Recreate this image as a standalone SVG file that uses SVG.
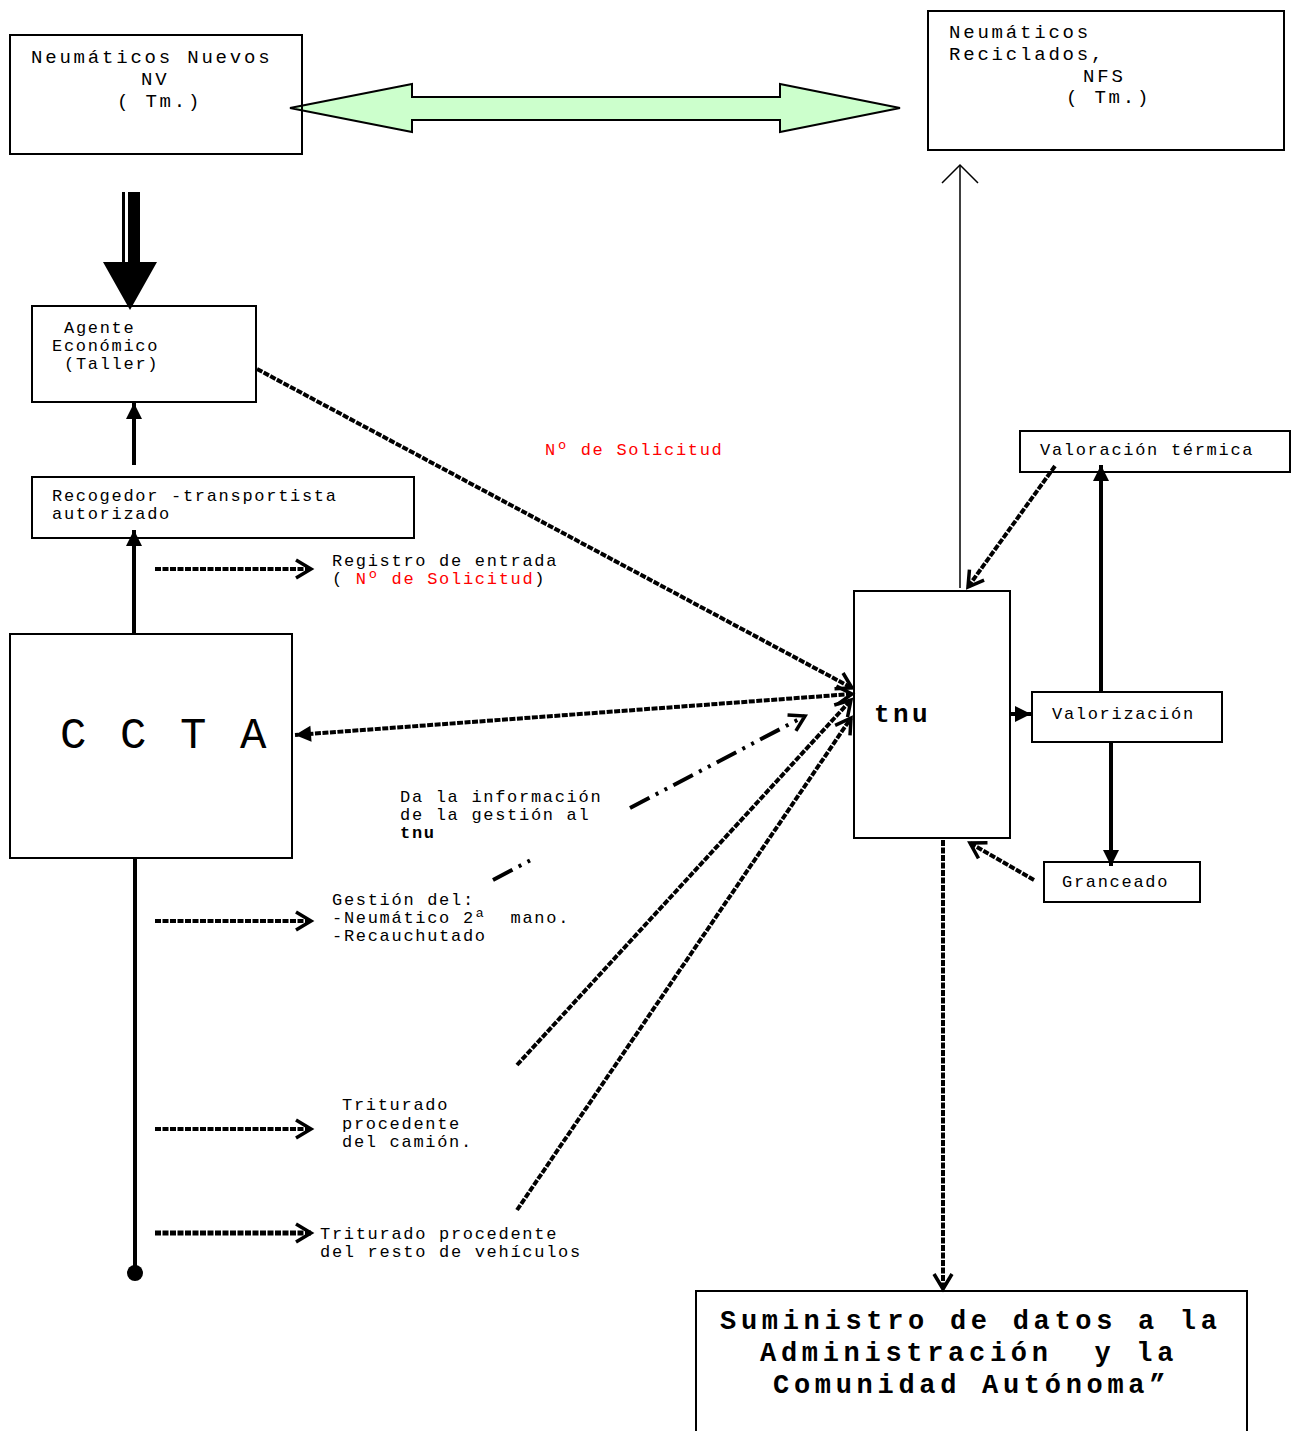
<svg xmlns="http://www.w3.org/2000/svg" width="1292" height="1431" viewBox="0 0 1292 1431" xml:space="preserve">
<style>
text { font-family: 'Liberation Mono', 'Courier New', monospace; fill: #000; white-space: pre; }
.s { font-size: 17px; letter-spacing: 1.7px; }
.l { font-size: 19px; letter-spacing: 2.8px; }
.red { fill: #ff0000; }
.b { font-weight: bold; }
.big { font-size: 27px; letter-spacing: 4.7px; font-weight: bold; }
.box { fill: none; stroke: #000; stroke-width: 2; }
.dash { fill: none; stroke: #000; stroke-width: 4; stroke-dasharray: 6 1.5; }
.solid { fill: none; stroke: #000; stroke-width: 4; }
.thin { fill: none; stroke: #000; stroke-width: 1.5; }
</style>
<defs>
<marker id="chev" viewBox="-20 -12 24 24" markerWidth="24" markerHeight="24" refX="0" refY="0" orient="auto" markerUnits="userSpaceOnUse">
<path d="M-15,-9 L0,0 L-15,9" fill="none" stroke="#000" stroke-width="3.5"/>
</marker>
<marker id="chevs" viewBox="-20 -12 24 24" markerWidth="24" markerHeight="24" refX="0" refY="0" orient="auto-start-reverse" markerUnits="userSpaceOnUse">
<path d="M-15,-9 L0,0 L-15,9" fill="none" stroke="#000" stroke-width="3.5"/>
</marker>
<marker id="thinchev" viewBox="-22 -22 26 44" markerWidth="26" markerHeight="44" refX="0" refY="0" orient="auto" markerUnits="userSpaceOnUse">
<path d="M-18,-18 L0,0 L-18,18" fill="none" stroke="#000" stroke-width="1.5"/>
</marker>
<marker id="tri" viewBox="-18 -10 20 20" markerWidth="20" markerHeight="20" refX="0" refY="0" orient="auto" markerUnits="userSpaceOnUse">
<path d="M-16,-8 L0,0 L-16,8 Z" fill="#000"/>
</marker>
</defs>
<rect width="1292" height="1431" fill="#fff"/>

<g id="connectors">
<polygon points="290,108 412,84 412,97 780,97 780,84 900,108 780,132 780,120 412,120 412,132" fill="#ccffcc" stroke="#000" stroke-width="2"/>
<rect x="122" y="192" width="3" height="72" fill="#000"/>
<rect x="128" y="192" width="12" height="72" fill="#000"/>
<polygon points="103,262 157,262 130,310" fill="#000"/>
<line x1="134" y1="465" x2="134" y2="403" class="solid" marker-end="url(#tri)"/>
<line x1="134" y1="634" x2="134" y2="530" class="solid" marker-end="url(#tri)"/>
<line x1="135" y1="858" x2="135" y2="1273" class="solid"/>
<circle cx="135" cy="1273" r="8" fill="#000"/>
<line x1="155" y1="569" x2="311" y2="569" class="dash" marker-end="url(#chev)"/>
<line x1="155" y1="921" x2="311" y2="921" class="dash" marker-end="url(#chev)"/>
<line x1="155" y1="1129" x2="311" y2="1129" class="dash" marker-end="url(#chev)"/>
<line x1="155" y1="1233" x2="311" y2="1233" class="dash" style="stroke-width:5" marker-end="url(#chev)"/>
<line x1="257" y1="369" x2="852" y2="688" class="dash" marker-end="url(#chev)"/>
<line x1="852" y1="694" x2="295" y2="735" class="dash" marker-start="url(#chevs)" marker-end="url(#tri)"/>
<path d="M493,880 L530,860.5" fill="none" stroke="#000" stroke-width="4" stroke-dasharray="22 7 3 7 3 7"/>
<path d="M630,808 L805,716" fill="none" stroke="#000" stroke-width="4" stroke-dasharray="22 7 3 7 3 7" marker-end="url(#chev)"/>
<line x1="517" y1="1065" x2="851" y2="700" class="dash" marker-end="url(#chev)"/>
<line x1="517" y1="1210" x2="851" y2="718" class="dash" marker-end="url(#chev)"/>
<line x1="1055" y1="466" x2="968" y2="587" class="dash" marker-end="url(#chev)"/>
<line x1="1034" y1="880" x2="970" y2="843" class="dash" marker-end="url(#chev)"/>
<line x1="943" y1="840" x2="943" y2="1289" class="dash" marker-end="url(#chev)"/>
<line x1="960" y1="588" x2="960" y2="165" class="thin" marker-end="url(#thinchev)"/>
<line x1="1010" y1="714" x2="1031" y2="714" class="solid" marker-end="url(#tri)"/>
<line x1="1101" y1="692" x2="1101" y2="465" class="solid" marker-end="url(#tri)"/>
<line x1="1111" y1="742" x2="1111" y2="866" class="solid" marker-end="url(#tri)"/>
</g>

<g id="node-nv">
<rect x="10" y="35" width="292" height="119" class="box"/>
<text class="l" x="31" y="63">Neumáticos Nuevos</text>
<text class="l" x="141" y="85">NV</text>
<text class="l" x="117" y="107">( Tm.)</text>
</g>

<g id="node-nfs">
<rect x="928" y="11" width="356" height="139" class="box"/>
<text class="l" x="949" y="38">Neumáticos</text>
<text class="l" x="949" y="60">Reciclados,</text>
<text class="l" x="1083" y="82">NFS</text>
<text class="l" x="1066" y="103">( Tm.)</text>
</g>

<g id="node-agente">
<rect x="32" y="306" width="224" height="96" class="box"/>
<text class="s" x="64" y="333">Agente</text>
<text class="s" x="52" y="351">Económico</text>
<text class="s" x="64" y="369">(Taller)</text>
</g>

<g id="node-recogedor">
<rect x="32" y="477" width="382" height="61" class="box"/>
<text class="s" x="52" y="501">Recogedor -transportista</text>
<text class="s" x="52" y="519">autorizado</text>
</g>

<g id="node-ccta">
<rect x="10" y="634" width="282" height="224" class="box"/>
<text x="60" y="748" style="font-size:44px;letter-spacing:3.6px">C C T A</text>
</g>

<g id="node-tnu">
<rect x="854" y="591" width="156" height="247" class="box"/>
<text class="b" x="874" y="722" style="font-size:26px;letter-spacing:3.4px">tnu</text>
</g>

<g id="node-valoracion">
<rect x="1020" y="431" width="270" height="41" class="box"/>
<text class="s" x="1040" y="455">Valoración térmica</text>
</g>

<g id="node-valorizacion">
<rect x="1032" y="692" width="190" height="50" class="box"/>
<text class="s" x="1052" y="719">Valorización</text>
</g>

<g id="node-granceado">
<rect x="1044" y="862" width="156" height="40" class="box"/>
<text class="s" x="1062" y="887">Granceado</text>
</g>

<g id="node-suministro">
<path d="M696,1431 V1291 H1247 V1431" class="box"/>
<text class="big" x="720" y="1329">Suministro de datos a la</text>
<text class="big" x="760" y="1361">Administración  y la</text>
<text class="big" x="773" y="1393">Comunidad Autónoma”</text>
</g>

<g id="labels">
<text class="s red" x="545" y="455">Nº de Solicitud</text>
<text class="s" x="332" y="566">Registro de entrada</text>
<text class="s" x="332" y="584">( <tspan class="red">Nº de Solicitud</tspan>)</text>
<text class="s" x="400" y="802">Da la información</text>
<text class="s" x="400" y="820">de la gestión al</text>
<text class="s b" x="400" y="838">tnu</text>
<text class="s" x="332" y="905">Gestión del:</text>
<text class="s" x="332" y="923">-Neumático 2ª  mano.</text>
<text class="s" x="332" y="941">-Recauchutado</text>
<text class="s" x="342" y="1110">Triturado</text>
<text class="s" x="342" y="1129">procedente</text>
<text class="s" x="342" y="1147">del camión.</text>
<text class="s" x="320" y="1239">Triturado procedente</text>
<text class="s" x="320" y="1257">del resto de vehículos</text>
</g>
</svg>
